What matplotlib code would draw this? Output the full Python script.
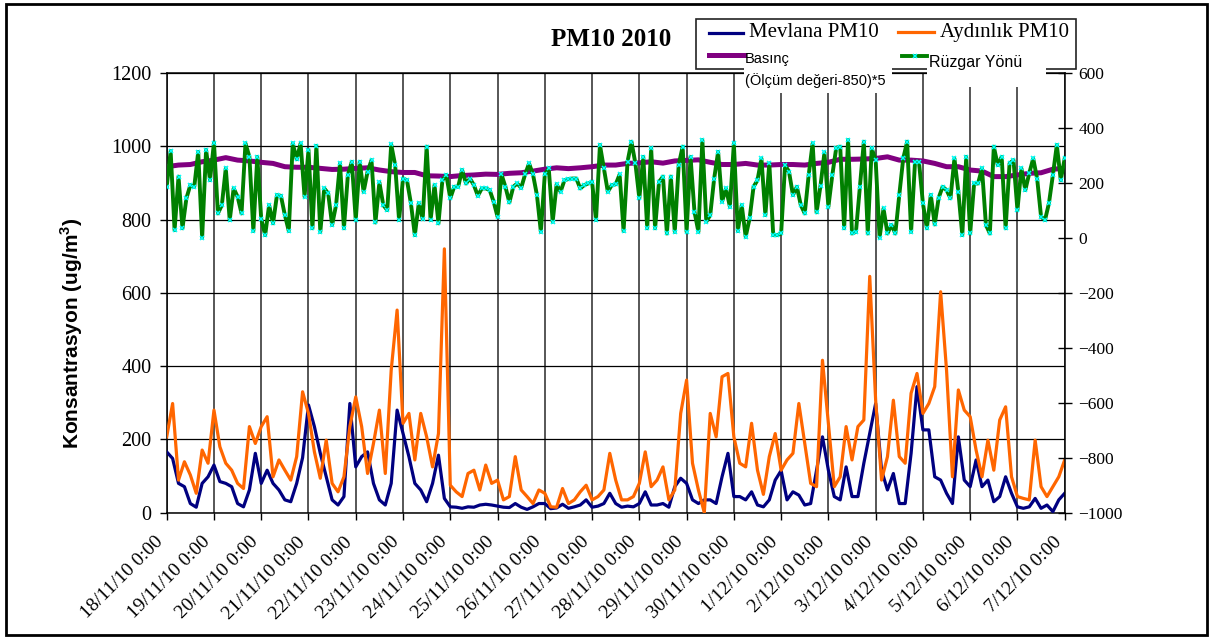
import numpy as np
import matplotlib.pyplot as plt
from matplotlib.patches import Rectangle
from matplotlib.lines import Line2D
from matplotlib.transforms import ScaledTranslation

plt.rcParams['font.family'] = ['Liberation Serif', 'DejaVu Serif']
plt.rcParams['mathtext.fontset'] = 'custom'
plt.rcParams['mathtext.bf'] = 'Liberation Sans:bold'
plt.rcParams['mathtext.rm'] = 'Liberation Sans'

# --- data, hours since 18/11/10 0:00 ---
day_labels = ['18/11/10 0:00', '19/11/10 0:00', '20/11/10 0:00', '21/11/10 0:00',
              '22/11/10 0:00', '23/11/10 0:00', '24/11/10 0:00', '25/11/10 0:00',
              '26/11/10 0:00', '27/11/10 0:00', '28/11/10 0:00', '29/11/10 0:00',
              '30/11/10 0:00', '1/12/10 0:00', '2/12/10 0:00', '3/12/10 0:00',
              '4/12/10 0:00', '5/12/10 0:00', '6/12/10 0:00', '7/12/10 0:00']

pm_hours = np.arange(0, 457, 3)
mevlana = [166, 148, 80, 71, 25, 15, 80, 98, 130, 85,
           80, 71, 25, 16, 62, 162, 80, 116, 80, 62,
           35, 30, 80, 150, 294, 235, 162, 98, 35, 21,
           44, 298, 125, 153, 166, 80, 35, 21, 80, 280,
           216, 153, 80, 62, 30, 80, 157, 39, 16, 15,
           12,
           16, 15, 21, 23, 21, 18, 15, 14, 25, 15,
           9, 16, 25, 25, 11, 13, 23, 12, 16, 21,
           35, 15, 18, 25, 53, 25, 15, 18, 16, 25,
           57, 21, 21, 25, 15, 71, 94, 80, 35, 25,
           35, 35, 25, 98, 162, 44, 44, 35, 57, 21,
           16,
           35, 89, 115, 35, 57, 48, 21, 25, 116, 207,
           116, 44, 35, 125, 44, 44, 135, 216, 298, 116,
           62, 107, 25, 25, 162, 344, 226, 226, 98, 89,
           53, 25, 207, 89, 71, 144, 71, 89, 30, 44,
           98, 53, 16, 12, 16, 39, 12, 21, 3, 35,
           53]
aydinlik = [207, 298, 89, 139, 103, 53, 171, 135, 280, 180,
            135, 116, 80, 66, 235, 189, 235, 262, 98, 144,
            116, 89, 153, 330, 271, 166, 94, 198, 80, 57,
            98, 235, 316, 235, 107, 189, 280, 107, 389, 553,
            244, 271, 144, 271, 207, 125, 216, 720, 75, 57,
            44,
            107, 116, 62, 130, 80, 89, 35, 44, 153, 62,
            44, 25, 62, 53, 16, 15, 66, 25, 35, 57,
            75, 35, 44, 62, 162, 89, 35, 35, 44, 80,
            166, 71, 89, 125, 35, 62, 271, 362, 135, 62,
            0, 271, 207, 371, 380, 207, 135, 125, 244, 116,
            50,
            153, 216, 116, 144, 162, 298, 189, 80, 71, 416,
            244, 71, 98, 235, 144, 235, 253, 645, 307, 89,
            153, 307, 153, 135, 326, 380, 271, 298, 344, 603,
            389, 98, 335, 280, 262, 171, 98, 198, 116, 253,
            289, 98, 44, 39, 35, 198, 71, 44, 71, 98,
            144]

pres_hours = np.arange(0, 457, 6)
basinc = [259, 265, 267, 277, 283, 292, 283, 280, 275, 271,
          259, 257, 257, 253, 249, 250, 253, 255, 247, 241,
          238, 238, 226, 225, 223, 227,
          229, 232, 231, 235, 237, 243, 250, 255, 252, 255,
          259, 265, 265, 271, 273, 277, 272, 280, 282, 284,
          275, 267, 267, 271, 265, 265,
          267, 267, 265, 271, 275, 286, 286, 287, 289, 295,
          283, 283, 280, 271, 259, 259, 247, 243, 223, 223,
          229, 235, 237, 250, 253]

wind_hours = np.arange(0, 457, 2)
ruzgar = [186, 316, 28, 223, 35, 144, 192, 186, 313, 1,
          320, 210, 347, 89, 119, 253, 65, 180, 150, 89,
          344, 295, 25, 295, 69, 10, 119, 53, 156, 153,
          83, 25, 344, 286, 344, 150, 320, 35, 335, 22,
          180, 162, 47, 119, 271, 35, 229, 277, 65, 277,
          168, 241, 283, 56, 202, 119, 101, 340, 265, 65,
          216, 210, 126, 10, 126, 69, 332, 65, 192, 53,
          210, 229, 144, 186, 186, 247, 198,
          216, 192, 153, 180, 180, 174, 132, 77, 231, 186,
          129, 186, 198, 182, 231, 271, 231, 156, 22, 231,
          253, 59, 195, 168, 210, 214, 216, 216, 180, 192,
          198, 204, 65, 338, 253, 168, 192, 195, 231, 25,
          277, 350, 271, 144, 295, 35, 326, 35, 204, 223,
          16, 223, 22, 267, 332, 22, 295, 95, 22, 356,
          59, 83, 216, 313, 132, 180, 113, 344, 25, 119,
          4, 71, 186, 210, 289, 83,
          271, 10, 10, 16, 265, 241, 156, 186, 119, 89,
          229, 344, 93, 190, 311, 113, 229, 328, 332, 35,
          356, 16, 22, 186, 350, 16, 326, 283, 1, 107,
          16, 47, 16, 156, 289, 350, 22, 277, 277, 126,
          35, 156, 49, 146, 186, 174, 144, 289, 168, 10,
          295, 16, 198, 198, 253, 47, 16, 332, 265, 295,
          35, 271, 283, 101, 253, 174, 235, 289, 216, 77,
          65, 126, 229, 338, 210, 289]

W, H = 1211, 639


def fx(px):
    return px / W


def fy(py):
    return 1 - py / H


fig = plt.figure(figsize=(W / 100, H / 100), dpi=100)
ax = fig.add_axes([fx(166.7), fy(512.7), (1064.7 - 166.7) / W, (512.7 - 73.0) / H])
ax2 = ax.twinx()

# primary axis: PM10
ax.plot(pm_hours, mevlana, color='#000080', lw=2.3, zorder=3)
ax.plot(pm_hours, aydinlik, color='#FF6600', lw=2.3, zorder=4)
ax.set_xlim(0, 456)
ax.set_ylim(0, 1200)
ax.set_yticks(np.arange(0, 1201, 200))
ax.set_xticks(np.arange(0, 457, 24))
ax.set_xticklabels(day_labels, rotation=45, ha='right', va='top', rotation_mode='anchor')
ax.tick_params(axis='y', direction='out', length=5, width=1, labelsize=14.5, pad=6)
ax.tick_params(axis='x', direction='out', length=5, width=1, labelsize=14, pad=10)
ax.grid(axis='y', color='black', lw=0.9)
ax.grid(axis='x', color='#3a3a3a', lw=1.2)
ax.set_axisbelow(True)
for s in ['left', 'bottom', 'top']:
    ax.spines[s].set_color('black')
    ax.spines[s].set_linewidth(1.1)
ax.spines['right'].set_visible(False)

shift = ScaledTranslation(-12 / 100, 0, fig.dpi_scale_trans)
for lab in ax.get_xticklabels():
    lab.set_transform(lab.get_transform() + shift)

# secondary axis: pressure and wind direction
ax2.plot(pres_hours, basinc, color='#800080', lw=3.6, zorder=2)
ax2.plot(wind_hours, ruzgar, color='#008000', lw=2.8, marker='x', ms=3,
         mec='#00FFFF', mew=1.1, zorder=3)
ax2.set_ylim(-1000, 600)
ax2.set_yticks(np.arange(-1000, 601, 200))
ax2.tick_params(axis='y', direction='inout', length=10, width=1, labelsize=12.5, pad=5)
ax2.spines['right'].set_color('black')
ax2.spines['right'].set_linewidth(1.1)
for s in ['left', 'top', 'bottom']:
    ax2.spines[s].set_visible(False)

# y label and title
fig.text(fx(72), fy(333), r'Konsantrasyon (ug/m$^\mathbf{3}$)', rotation=90,
         ha='center', va='center', fontsize=15, fontweight='bold',
         family=['Liberation Sans', 'DejaVu Sans'])
fig.text(fx(611), fy(39), 'PM10 2010', fontsize=18, fontweight='bold',
         ha='center', va='center')

# legend drawn by hand (Excel style, lower entries spill over the plot)
fig.patches.append(Rectangle((fx(696), fy(69.3)), (1076 - 696) / W, (69.3 - 19.3) / H,
                             transform=fig.transFigure, fill=False, ec='#222222',
                             lw=1.2, zorder=5))
for x0, y0, w, h in [(744, 48, 148, 45), (927, 48, 119, 39)]:
    fig.patches.append(Rectangle((fx(x0), fy(y0 + h)), w / W, h / H,
                                 transform=fig.transFigure, fc='white', ec='none',
                                 zorder=6))

fig.lines.append(Line2D([fx(708.6), fx(743)], [fy(32.7)] * 2, color='#000080', lw=2.3,
                        transform=fig.transFigure, zorder=7))
fig.lines.append(Line2D([fx(898), fx(934)], [fy(31.7)] * 2, color='#FF6600', lw=2.3,
                        transform=fig.transFigure, zorder=7))
fig.lines.append(Line2D([fx(709), fx(744)], [fy(55)] * 2, color='#800080', lw=3.6,
                        transform=fig.transFigure, zorder=7))
fig.lines.append(Line2D([fx(902), fx(927)], [fy(56)] * 2, color='#008000', lw=2.8,
                        transform=fig.transFigure, zorder=7))
fig.lines.append(Line2D([fx(914.5)], [fy(56)], marker='x', ms=3, mec='#00FFFF', mew=1.1,
                        transform=fig.transFigure, zorder=8))

fig.text(fx(748.8), fy(32.7), 'Mevlana PM10', fontsize=15, ha='left', va='center', zorder=8)
fig.text(fx(940), fy(33), 'Aydınlık PM10', fontsize=15, ha='left', va='center', zorder=8)
fig.text(fx(745), fy(52.5), 'Basınç\n(Ölçüm değeri-850)*5', fontsize=10.5, ha='left',
         va='top', linespacing=1.55, family=['Liberation Sans', 'DejaVu Sans'], zorder=8)
fig.text(fx(929), fy(62.3), 'Rüzgar Yönü', fontsize=11.5, ha='left', va='center',
         family=['Liberation Sans', 'DejaVu Sans'], zorder=8)

# outer chart frame
fig.patches.append(Rectangle((fx(6), fy(635)), (1207 - 6) / W, (635 - 4) / H,
                             transform=fig.transFigure, fill=False, ec='black',
                             lw=2.0, zorder=10))

fig.savefig('out.png', dpi=100)
